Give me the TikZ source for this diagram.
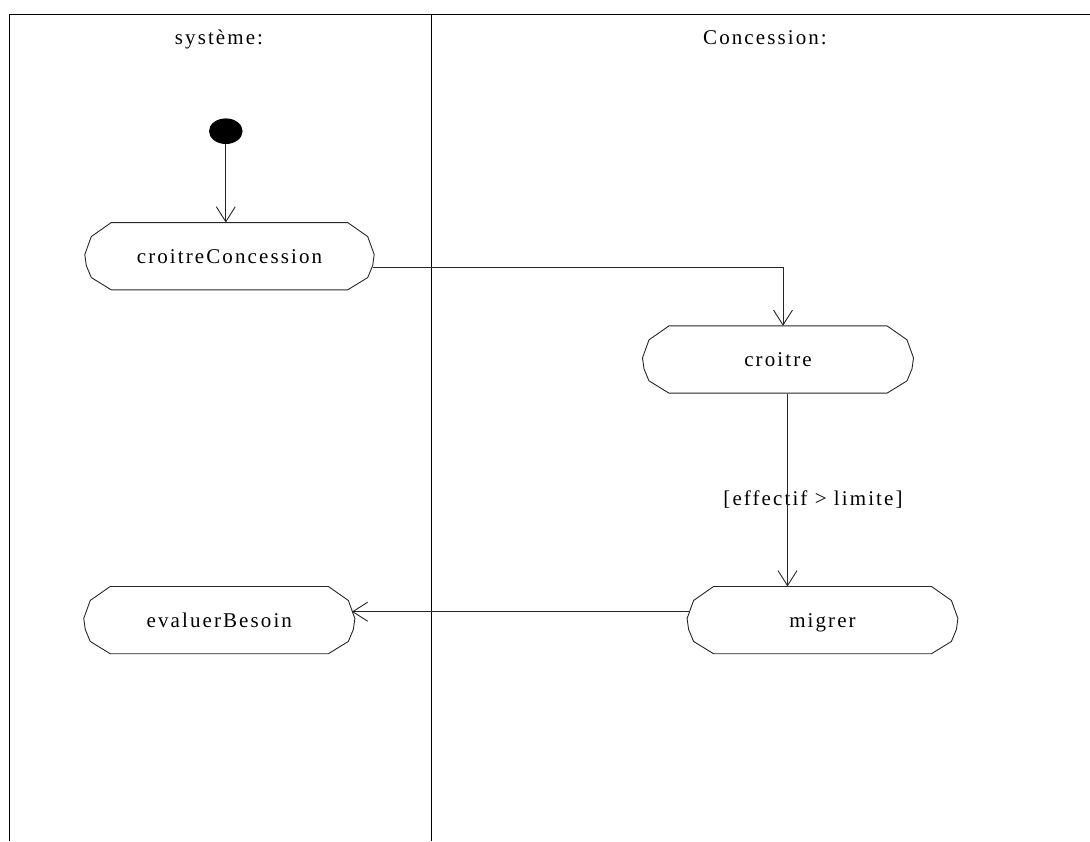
\documentclass[tikz,border=0pt]{standalone}
\usepackage{fontspec}
\setmainfont{Liberation Serif}
\newfontfamily\lanefont{Liberation Serif}[LetterSpace=10]
\usetikzlibrary{arrows.meta,calc,shapes.geometric}

% Draw the octagonal action outline around a named node of height 67.3
\newcommand{\actoutline}[1]{%
  \draw[outline]
    ($(#1.north west)+(26.5,0)$) -- ($(#1.north east)+(-26.5,0)$)
    -- ($(#1.north east)+(-6.5,14)$) -- ($(#1.north east)+(0,32)$)
    -- ($(#1.north east)+(-1.5,43)$) -- ($(#1.north east)+(-6.5,55)$)
    -- ($(#1.north east)+(-26.5,67.3)$) -- ($(#1.north west)+(26.5,67.3)$)
    -- ($(#1.north west)+(6.5,55)$) -- ($(#1.north west)+(1.5,43)$)
    -- ($(#1.north west)+(0,32)$) -- ($(#1.north west)+(6.5,14)$)
    -- cycle;}

\begin{document}
\begin{tikzpicture}[x=1pt,y=-1pt,
  frame/.style={line width=1pt,black},
  outline/.style={line width=0.9pt,black!85},
  label font/.style={font=\lanefont\fontsize{21}{24}\selectfont},
  action/.style={inner sep=0pt,minimum height=67.3pt,text height=17pt,text depth=3pt,label font},
  heading/.style={anchor=base,label font},
  guard/.style={anchor=base,inner sep=0pt,label font},
  flow/.style={line width=0.9pt,black!85,-{Straight Barb[length=15pt,width=19pt,line width=0.9pt]}},
  startdot/.style={ellipse,fill=black,minimum width=33.6pt,minimum height=25.6pt,inner sep=0pt}]
\useasboundingbox (0,0) rectangle (1090,841);

% swimlane frame
\coordinate (tl) at (9,14);
\coordinate (tr) at (1090,14);
\coordinate (bl) at (9,841);
\coordinate (dt) at (431,14);
\coordinate (db) at (431,841);
\draw[frame] (bl) -- (tl) -- (tr);
\draw[frame] (dt) -- (db);

% lane headings
\node[heading] (lsys) at (219,44.3) {système:};
\node[heading] (lcon) at (765,44.3) {Concession:};

% initial state
\node[startdot] (start) at (225.8,131.2) {};

% actions
\node[action,minimum width=289pt] (cc) at (229.5,256.4) {croitreConcession};
\node[action,minimum width=270.6pt] (cr) at (778,359.7) {croitre};
\node[action,minimum width=270.7pt] (eb) at (219.3,620.3) {evaluerBesoin};
\node[action,minimum width=270.4pt] (mg) at (822.5,620.3) {migrer};
\actoutline{cc}
\actoutline{cr}
\actoutline{eb}
\actoutline{mg}

% transitions
\draw[flow] (start.south) -- (start.south |- cc.north);
\coordinate (ccout) at ($(cc.east)+(-1.5,11)$);
\coordinate (crin) at ($(cr.north)+(5,0)$);
\draw[flow] (ccout) -| (crin);
\node[guard] (gd) at (813,505) {[effectif > limite]};
\coordinate (crout) at ($(cr.south)+(9.5,0)$);
\draw[flow] (crout) -- (crout |- mg.north);
\coordinate (mgout) at ($(mg.west)+(2.7,-8.6)$);
\coordinate (ebin) at ($(eb.east)+(-3,-8.6)$);
\draw[flow] (mgout) -- (ebin);
\end{tikzpicture}
\end{document}
